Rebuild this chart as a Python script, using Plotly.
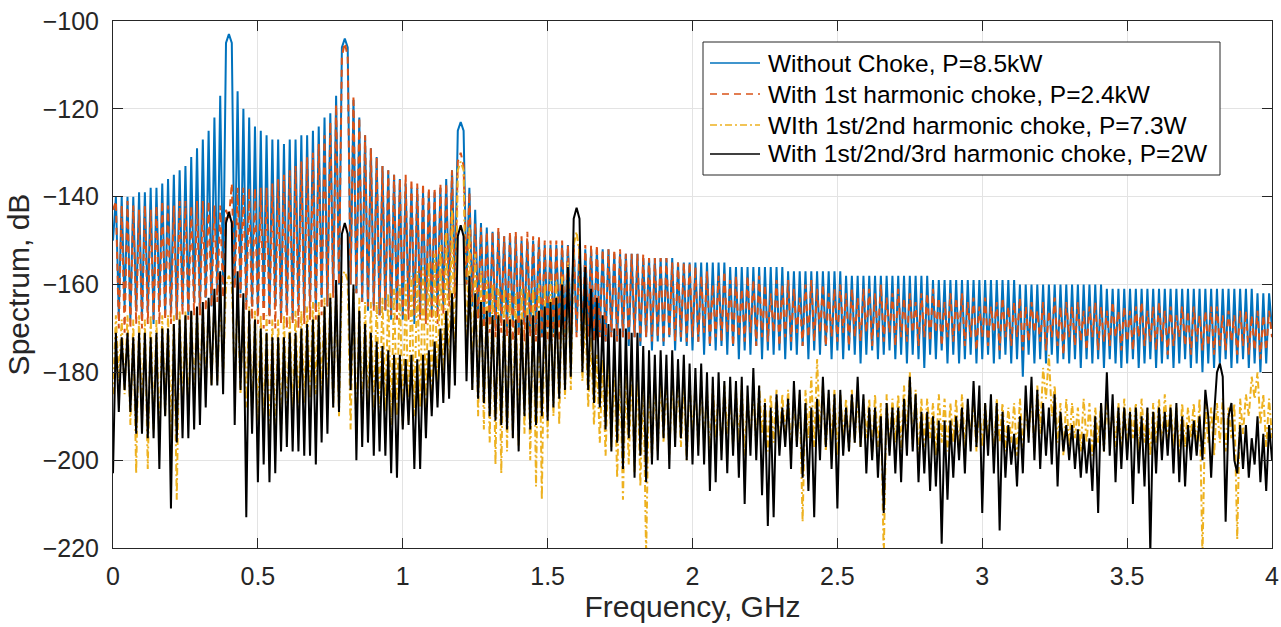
import numpy as np
import plotly.graph_objects as go

# Frequency sampling of the spectra: 0 to 4 GHz in 10 MHz steps
freq_ghz = np.round(np.arange(401) * 0.01, 2)

# Spectrum without choke (dB), one row per 100 MHz
without_choke_db = [
    -150, -140, -167, -140, -165, -140, -168, -140, -166, -139,
    -168, -139, -166, -138, -169, -138, -165, -137, -167, -136,
    -166, -135, -168, -134, -165, -133, -167, -131, -164, -129,
    -166, -127, -163, -125, -165, -122, -162, -117, -160, -105,
    -103, -105, -160, -116, -162, -120, -164, -122, -165, -124,
    -166, -125, -164, -126, -167, -127, -165, -127, -168, -128,
    -166, -127, -168, -127, -165, -126, -167, -126, -164, -125,
    -166, -124, -163, -122, -165, -121, -162, -117, -160, -106,
    -104, -106, -160, -118, -162, -122, -164, -126, -166, -129,
    -165, -131, -167, -133, -166, -134, -168, -135, -166, -136,
    -168, -137, -166, -138, -169, -138, -167, -139, -168, -139,
    -167, -139, -166, -138, -165, -136, -163, -134, -160, -125,
    -123, -125, -160, -138, -165, -143, -167, -146, -168, -147,
    -169, -148, -170, -148, -168, -149, -170, -149, -169, -149,
    -171, -150, -169, -150, -171, -150, -170, -150, -172, -151,
    -170, -151, -171, -151, -169, -151, -171, -151, -170, -151,
    -171, -151, -172, -152, -170, -152, -172, -152, -171, -152,
    -173, -152, -171, -153, -173, -153, -172, -153, -174, -153,
    -172, -153, -174, -154, -172, -154, -175, -154, -173, -154,
    -174, -154, -172, -154, -175, -155, -173, -155, -174, -155,
    -175, -155, -173, -155, -176, -155, -174, -155, -175, -155,
    -174, -155, -176, -156, -174, -156, -177, -156, -175, -156,
    -176, -156, -174, -156, -177, -156, -175, -156, -176, -156,
    -175, -156, -177, -157, -175, -157, -176, -157, -174, -157,
    -177, -157, -175, -157, -176, -157, -174, -157, -177, -157,
    -175, -157, -177, -158, -175, -158, -176, -158, -178, -158,
    -176, -158, -175, -158, -177, -158, -176, -158, -175, -158,
    -177, -158, -176, -158, -178, -158, -176, -158, -177, -158,
    -179, -158, -176, -159, -177, -159, -175, -159, -178, -159,
    -176, -159, -178, -159, -177, -159, -176, -159, -178, -159,
    -177, -159, -176, -159, -178, -159, -177, -159, -176, -159,
    -178, -159, -177, -160, -181, -160, -176, -160, -178, -160,
    -177, -160, -178, -160, -176, -160, -178, -160, -177, -160,
    -178, -160, -177, -160, -179, -160, -177, -160, -178, -160,
    -177, -160, -179, -161, -177, -161, -178, -161, -179, -161,
    -178, -161, -177, -161, -179, -161, -178, -161, -177, -161,
    -179, -161, -178, -161, -177, -161, -179, -161, -178, -161,
    -177, -161, -179, -161, -178, -161, -180, -161, -178, -161,
    -179, -161, -178, -161, -177, -161, -179, -161, -178, -161,
    -177, -161, -179, -161, -178, -162, -180, -162, -178, -162,
    -170,
]

# Spectrum with 1st harmonic choke (dB)
choke_1st_db = [
    -143, -141, -170, -142, -171, -141, -170, -142, -169, -143,
    -170, -142, -169, -143, -168, -142, -169, -141, -168, -142,
    -169, -142, -168, -141, -167, -141, -168, -142, -167, -141,
    -167, -141, -166, -141, -165, -142, -164, -142, -163, -143,
    -145, -137, -161, -138, -163, -138, -166, -138, -168, -138,
    -169, -138, -170, -138, -169, -137, -170, -136, -169, -135,
    -170, -134, -169, -133, -170, -132, -169, -131, -168, -130,
    -168, -128, -167, -126, -165, -123, -163, -119, -160, -108,
    -105, -108, -160, -117, -162, -122, -164, -126, -165, -129,
    -166, -131, -167, -133, -166, -134, -167, -135, -168, -136,
    -167, -135, -168, -136, -167, -137, -168, -137, -169, -138,
    -168, -138, -169, -137, -167, -137, -165, -134, -163, -132,
    -130, -133, -160, -139, -164, -146, -168, -147, -170, -148,
    -171, -148, -172, -147, -171, -149, -172, -148, -173, -148,
    -172, -149, -173, -148, -172, -149, -173, -149, -172, -150,
    -173, -150, -172, -150, -173, -150, -172, -151, -173, -150,
    -172, -151, -173, -151, -172, -151, -173, -151, -172, -152,
    -173, -152, -172, -152, -173, -152, -172, -153, -173, -153,
    -172, -153, -173, -153, -172, -154, -173, -154, -172, -154,
    -173, -154, -172, -155, -173, -155, -172, -155, -173, -155,
    -172, -156, -173, -158, -171, -157, -174, -160, -172, -158,
    -173, -157, -171, -159, -174, -158, -172, -161, -173, -158,
    -171, -159, -174, -158, -172, -160, -173, -162, -171, -159,
    -174, -160, -172, -159, -173, -161, -171, -163, -174, -160,
    -172, -159, -173, -161, -171, -160, -174, -162, -172, -161,
    -173, -160, -171, -162, -174, -161, -172, -163, -173, -161,
    -171, -161, -174, -162, -172, -160, -173, -163, -171, -162,
    -174, -161, -172, -163, -173, -162, -171, -164, -174, -162,
    -172, -162, -173, -161, -171, -163, -174, -164, -172, -162,
    -173, -163, -171, -162, -174, -164, -172, -163, -175, -165,
    -172, -163, -174, -165, -171, -164, -175, -163, -172, -165,
    -174, -164, -172, -163, -175, -165, -173, -164, -171, -166,
    -173, -164, -175, -166, -172, -163, -174, -165, -176, -164,
    -172, -165, -174, -164, -173, -166, -175, -165, -172, -164,
    -175, -165, -173, -166, -174, -164, -172, -166, -175, -165,
    -173, -166, -175, -165, -172, -164, -174, -166, -173, -165,
    -175, -164, -173, -166, -176, -165, -174, -167, -172, -165,
    -174, -166, -176, -165, -173, -167, -175, -166, -174, -165,
    -176, -165, -174, -167, -175, -166, -173, -167, -176, -166,
    -174, -166, -176, -167, -175, -166, -177, -167, -175, -166,
    -172,
]

# Spectrum with 1st/2nd harmonic choke (dB)
choke_1st_2nd_db = [
    -185, -167, -182, -168, -185, -167, -192, -168, -203, -167,
    -190, -168, -202, -167, -193, -168, -196, -167, -190, -167,
    -195, -167, -209, -166, -188, -166, -190, -166, -186, -165,
    -185, -165, -184, -164, -183, -163, -182, -162, -181, -160,
    -158, -160, -182, -162, -185, -164, -188, -165, -190, -166,
    -191, -167, -193, -167, -196, -168, -197, -168, -194, -167,
    -192, -167, -190, -166, -189, -166, -187, -165, -186, -164,
    -185, -164, -184, -163, -186, -162, -188, -161, -190, -158,
    -157, -159, -193, -161, -195, -163, -192, -164, -189, -164,
    -190, -164, -188, -163, -189, -162, -192, -161, -190, -160,
    -192, -159, -191, -158, -190, -157, -188, -156, -189, -155,
    -187, -153, -186, -151, -185, -148, -183, -143, -180, -134,
    -132, -134, -178, -147, -184, -153, -190, -157, -193, -159,
    -196, -160, -201, -161, -203, -161, -198, -162, -195, -162,
    -197, -161, -194, -161, -200, -161, -206, -160, -209, -160,
    -195, -159, -190, -159, -192, -158, -186, -155, -184, -151,
    -148, -153, -182, -166, -188, -172, -192, -176, -196, -177,
    -199, -177, -197, -178, -204, -178, -209, -179, -201, -179,
    -203, -179, -206, -180, -222, -180, -200, -181, -198, -181,
    -196, -181, -199, -182, -195, -181, -197, -182, -200, -182,
    -194, -183, -197, -182, -196, -184, -199, -183, -195, -184,
    -198, -183, -194, -185, -197, -184, -196, -183, -199, -185,
    -195, -184, -197, -183, -194, -186, -198, -185, -196, -184,
    -197, -185, -195, -184, -199, -186, -196, -185, -214, -184,
    -195, -181, -197, -177, -194, -183, -198, -185, -196, -184,
    -199, -185, -195, -186, -198, -184, -196, -185, -197, -186,
    -195, -186, -199, -185, -197, -187, -222, -185, -198, -186,
    -196, -185, -198, -183, -195, -180, -197, -184, -199, -186,
    -197, -186, -195, -187, -199, -185, -196, -186, -198, -187,
    -196, -186, -199, -185, -197, -187, -195, -186, -198, -187,
    -197, -187, -195, -188, -199, -186, -196, -187, -198, -188,
    -196, -187, -199, -186, -197, -188, -195, -185, -198, -183,
    -194, -179, -186, -176, -190, -183, -196, -187, -199, -186,
    -197, -187, -195, -188, -198, -186, -196, -187, -199, -188,
    -196, -187, -198, -186, -195, -188, -197, -187, -199, -186,
    -197, -188, -195, -187, -198, -186, -196, -188, -199, -187,
    -196, -186, -198, -185, -195, -187, -197, -188, -199, -187,
    -197, -188, -195, -187, -198, -186, -222, -187, -196, -188,
    -199, -187, -196, -186, -198, -188, -195, -187, -218, -186,
    -194, -185, -190, -181, -186, -180, -192, -185, -197, -186,
    -195,
]

# Spectrum with 1st/2nd/3rd harmonic choke (dB)
choke_1st_2nd_3rd_db = [
    -203, -171, -189, -172, -184, -171, -189, -172, -194, -171,
    -194, -171, -195, -172, -195, -171, -202, -170, -190, -170,
    -211, -169, -196, -168, -195, -167, -195, -166, -193, -165,
    -192, -164, -188, -163, -183, -161, -183, -157, -185, -146,
    -143.5, -146, -192, -157, -184, -162, -213, -166, -194, -168,
    -205, -170, -201, -171, -205, -172, -203, -172, -198, -172,
    -197, -171, -198, -171, -198, -170, -199, -169, -199, -168,
    -201, -167, -196, -165, -194, -163, -188, -159, -189, -148.5,
    -146, -148.5, -184, -160, -200, -166, -197, -169, -196, -171,
    -199, -173, -198, -174, -199, -175, -203, -176, -204, -176,
    -193, -177, -192, -176, -202, -177, -202, -176, -195, -175,
    -190, -173, -188, -170, -187, -166, -186, -162, -183, -149,
    -146.5, -149, -182, -158, -184, -162, -186, -164, -187, -166,
    -190, -167, -191, -167, -192, -168, -193, -168, -195, -168,
    -198, -168, -190, -167, -193, -167, -192, -166, -190, -165,
    -191, -164, -188, -163, -186, -160, -184, -156, -181, -145,
    -142.5, -145, -180, -156, -184, -161, -187, -163, -188, -167,
    -193, -169, -198, -170, -196, -170, -202, -170, -195, -171,
    -204, -171, -199, -174, -205, -175, -201, -176, -200, -175,
    -195, -176, -202, -175, -197, -177, -195, -176, -200, -178,
    -201, -179, -199, -178, -201, -180, -207, -181, -205, -180,
    -200, -182, -203, -181, -199, -182, -204, -181, -210, -183,
    -199, -179, -200, -183, -208, -187, -215, -188, -213, -185,
    -199, -188, -197, -186, -202, -182, -197, -184, -204, -187,
    -207, -188, -213, -186, -200, -181, -197, -184, -202, -185,
    -211, -184, -199, -188, -198, -185, -196, -181, -197, -185,
    -203, -188, -200, -188, -204, -190, -212, -187, -199, -188,
    -203, -188, -205, -186, -199, -181, -198, -185, -205, -189,
    -203, -189, -207, -190, -206, -191, -219, -191, -209, -191,
    -204, -190, -200, -188, -203, -186, -198, -182, -197, -183,
    -212, -187, -199, -185, -203, -187, -216, -189, -204, -192,
    -201, -194, -206, -190, -203, -183, -196, -181, -200, -184,
    -202, -187, -199, -188, -201, -185, -206, -189, -198, -192,
    -200, -192, -202, -193, -204, -194, -203, -195, -207, -190,
    -212, -187, -198, -180, -199, -185, -205, -188, -202, -188,
    -200, -189, -210, -188, -203, -190, -206, -188, -221, -189,
    -203, -188, -200, -189, -199, -188, -203, -187, -205, -190,
    -206, -192, -200, -191, -199, -190, -200, -184, -190, -204,
    -190, -180, -178, -181, -214, -190, -187, -200, -203, -192,
    -202, -192, -204, -195, -201, -190, -205, -194, -207, -192,
    -200,
]

legend_names = [
    "Without Choke, P=8.5kW",
    "With 1st harmonic choke, P=2.4kW",
    "WIth 1st/2nd harmonic choke, P=7.3W",
    "With 1st/2nd/3rd harmonic choke, P=2W",
]
series = [without_choke_db, choke_1st_db, choke_1st_2nd_db, choke_1st_2nd_3rd_db]
for s in series:
    assert len(s) == len(freq_ghz)

line_styles = [
    dict(color="#0072BD", width=2, dash="solid"),
    dict(color="#D95319", width=2, dash="7px,5px"),
    dict(color="#EDB120", width=2, dash="7px,3px,2px,3px"),
    dict(color="#000000", width=2, dash="solid"),
]

FONT = "Liberation Sans, Arial, Helvetica, sans-serif"
AX_COLOR = "#262626"

W, H = 1281, 627
M_L, M_R, M_T, M_B = 113, 9, 21, 79
PLOT_W = W - M_L - M_R
PLOT_H = H - M_T - M_B


def px_x(px):
    return (px - M_L) / PLOT_W


def px_y(py):
    return (H - M_B - py) / PLOT_H


fig = go.Figure()
for name, vals, style in zip(legend_names, series, line_styles):
    fig.add_trace(go.Scatter(
        x=freq_ghz, y=vals, mode="lines", name=name, line=style,
        showlegend=False,
    ))

# Boxed legend in the upper right of the axes
box_l, box_r, box_t, box_b = 703, 1220, 42, 175
row_y = [63, 94, 125, 154]
shapes = [dict(
    type="rect", xref="paper", yref="paper",
    x0=px_x(box_l), x1=px_x(box_r), y0=px_y(box_b), y1=px_y(box_t),
    line=dict(color=AX_COLOR, width=1), fillcolor="white", layer="above",
)]
annotations = []
for name, style, ry in zip(legend_names, line_styles, row_y):
    shapes.append(dict(
        type="line", xref="paper", yref="paper",
        x0=px_x(710), x1=px_x(760), y0=px_y(ry), y1=px_y(ry),
        line=dict(color=style["color"], width=1.5, dash=style["dash"]),
        layer="above",
    ))
    annotations.append(dict(
        text=name, xref="paper", yref="paper", x=px_x(766), y=px_y(ry),
        xanchor="left", yanchor="middle", showarrow=False,
        font=dict(family=FONT, size=24.5, color="#000000"),
    ))

axis_common = dict(
    showline=True, linecolor=AX_COLOR, linewidth=1, mirror="ticks",
    ticks="inside", ticklen=10, tickcolor=AX_COLOR, tickwidth=1,
    showgrid=True, gridcolor="#e3e3e3", gridwidth=1, zeroline=False,
    tickfont=dict(family=FONT, size=25, color=AX_COLOR),
    ticklabeloverflow="allow", automargin=False,
)

fig.update_layout(
    width=W, height=H,
    margin=dict(l=M_L, r=M_R, t=M_T, b=M_B, autoexpand=False),
    paper_bgcolor="white", plot_bgcolor="white",
    font=dict(family=FONT, color=AX_COLOR),
    xaxis=dict(
        range=[0, 4], tickvals=[0, 0.5, 1, 1.5, 2, 2.5, 3, 3.5, 4],
        ticktext=["0", "0.5", "1", "1.5", "2", "2.5", "3", "3.5", "4"],
        title=dict(text="Frequency, GHz", font=dict(family=FONT, size=30, color=AX_COLOR), standoff=4),
        ticklabelstandoff=6,
        **axis_common,
    ),
    yaxis=dict(
        range=[-220, -100], tick0=-220, dtick=20,
        title=dict(text="Spectrum, dB", font=dict(family=FONT, size=30, color=AX_COLOR), standoff=4),
        ticklabelstandoff=8,
        **axis_common,
    ),
    shapes=shapes,
    annotations=annotations,
    showlegend=False,
)

fig.write_html("out.html")
